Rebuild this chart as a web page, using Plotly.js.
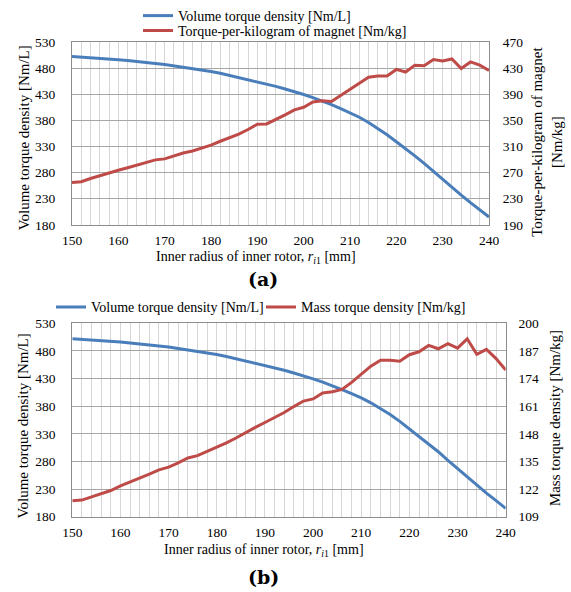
<!DOCTYPE html>
<html>
<head>
<meta charset="utf-8">
<script src="https://cdn.plot.ly/plotly-3.0.1.min.js"></script>
<style>html,body{margin:0;padding:0;background:#fff;}#chart{width:571px;height:592px;}</style>
</head>
<body>
<div id="chart"></div>
<script>
// Inner radius of inner rotor [mm]
var radius = [150,152,154,156,158,160,162,164,166,168,170,172,174,176,178,180,182,184,186,188,190,192,194,196,198,200,202,204,206,208,210,212,214,216,218,220,222,224,226,228,230,232,234,236,238,240];

// Volume torque density [Nm/L]
var volumeTorque = [502,501,500,499,497.5,496,494.5,493,491,489,487,484.5,482,479.5,476.5,473.5,470,466,462,458,454,449.5,445,440,435,429.5,423.5,417,410,402.5,395,386,376,365,352.5,339,326,312,297.5,282,267,252,237,222.5,209,195];

// (a) Torque-per-kilogram of magnet [Nm/kg]
var torquePerKgMagnet = [255,256,261,265.5,269.5,273.5,277.5,281.5,285,289.5,291,296,300,303,307.5,312,318,323,329,336,344,344.5,351,358.5,366,370,378,380,379,388,397.5,407,416,418,418,428,424,434.5,433.5,443,441,444,429.5,439.5,434.5,426.5];

// (b) Mass torque density [Nm/kg]
var massTorque = [116.5,116.8,118.3,119.7,121.3,123.5,125.3,127,129,131,132.3,134.3,136.6,137.7,139.6,141.8,143.7,146,148.6,151,153.3,155.5,158,160.8,163.4,164.4,167.2,167.8,168.9,172.2,176,179.8,182.6,182.6,182.1,185.2,186.6,189.6,188,190.4,188.3,192.7,185.4,187.7,183.4,178];

// Tick values
var xTicks = [150,160,170,180,190,200,210,220,230,240];
var leftTicks = [180,230,280,330,380,430,480,530];
var rightTicksA = [190,230,270,310,350,390,430,470];
var rightTicksB = [109,122,135,148,161,174,187,200];

var BLUE = '#4A7EBB', RED = '#BE4B48';
var FONT = '"Liberation Serif", "Times New Roman", serif';
var axisLine = '#8c8c8c';
var hGrid = '#a6a6a6';
var vGrid = '#d6d6d6';
function tf() { return {family: FONT, size: 13.5, color: '#000'}; }

var traces = [
  {x: radius, y: volumeTorque, xaxis: 'x', yaxis: 'y', mode: 'lines', name: 'Volume torque density [Nm/L]', line: {color: BLUE, width: 3}, legend: 'legend'},
  {x: radius, y: torquePerKgMagnet, xaxis: 'x', yaxis: 'y2', mode: 'lines', name: 'Torque-per-kilogram of magnet [Nm/kg]', line: {color: RED, width: 3}, legend: 'legend2'},
  {x: radius, y: volumeTorque, xaxis: 'x2', yaxis: 'y3', mode: 'lines', name: 'Volume torque density [Nm/L]', line: {color: BLUE, width: 3}, legend: 'legend3'},
  {x: radius, y: massTorque, xaxis: 'x2', yaxis: 'y4', mode: 'lines', name: 'Mass torque density [Nm/kg]', line: {color: RED, width: 3}, legend: 'legend4'}
];

function xAxis(domain, anchor) {
  return {
    domain: domain, anchor: anchor, range: [150, 240],
    tickmode: 'array', tickvals: xTicks, ticktext: xTicks.map(String),
    showgrid: true, gridcolor: vGrid, gridwidth: 1,
    minor: {dtick: 2, tick0: 150, showgrid: true, gridcolor: vGrid, gridwidth: 1},
    showline: true, mirror: true, linecolor: axisLine, linewidth: 1,
    ticks: 'outside', ticklen: 3, tickcolor: 'rgba(0,0,0,0)',
    tickfont: tf(), zeroline: false, fixedrange: true
  };
}
function yLeft(domain, anchor) {
  return {
    domain: domain, anchor: anchor, range: [180, 530],
    tickmode: 'array', tickvals: leftTicks, ticktext: leftTicks.map(String),
    showgrid: true, gridcolor: hGrid, gridwidth: 1,
    showline: true, mirror: true, linecolor: axisLine, linewidth: 1,
    ticks: 'outside', ticklen: 13, tickcolor: 'rgba(0,0,0,0)',
    tickfont: tf(), zeroline: false, fixedrange: true
  };
}
function yRight(over, anchor, range, vals, len) {
  return {
    overlaying: over, anchor: anchor, side: 'right', range: range,
    tickmode: 'array', tickvals: vals, ticktext: vals.map(String),
    showgrid: false, showline: false,
    ticks: 'outside', ticklen: len, tickcolor: 'rgba(0,0,0,0)',
    tickfont: tf(), zeroline: false, fixedrange: true
  };
}

function legendAt(xpx, ypx) {
  return {
    x: xpx / 571, y: 1 - ypx / 592, xanchor: 'left', yanchor: 'middle',
    orientation: 'v', bgcolor: 'rgba(0,0,0,0)', borderwidth: 0,
    font: {family: FONT, size: 14, color: '#000'}, itemclick: false, itemdoubleclick: false
  };
}

function ann(text, xpx, ypx, size, angle, fam) {
  return {text: text, x: xpx / 571, y: 1 - ypx / 592, xref: 'paper', yref: 'paper',
    xanchor: 'center', yanchor: 'middle', showarrow: false, textangle: angle || 0,
    font: {family: fam || FONT, size: size, color: '#000'}};
}

var xTitle = 'Inner radius of inner rotor, <i>r</i><sub><i>i</i>1</sub> [mm]';
var BOLD = 'DejaVu Serif';

var layout = {
  width: 571, height: 592,
  font: {family: FONT, size: 14, color: '#000'},
  margin: {l: 0, r: 0, t: 0, b: 0, pad: 0},
  paper_bgcolor: '#fff', plot_bgcolor: '#fff',
  showlegend: true,
  xaxis: xAxis([72 / 571, 489 / 571], 'y'),
  yaxis: yLeft([1 - 221.7 / 592, 1 - 37.3 / 592], 'x'),
  yaxis2: yRight('y', 'x', [190, 470], rightTicksA, 10),
  xaxis2: xAxis([72.3 / 571, 505.7 / 571], 'y3'),
  yaxis3: yLeft([1 - 516 / 592, 1 - 321 / 592], 'x2'),
  yaxis4: yRight('y3', 'x2', [109, 200], rightTicksB, 9),
  legend: legendAt(138, 11),
  legend2: legendAt(138, 26),
  legend3: legendAt(51, 305),
  legend4: legendAt(261, 305),
  annotations: [
    ann(xTitle, 256, 255, 14, 0),
    ann('<b>(a)</b>', 263, 276, 19, 0, BOLD),
    ann('Volume torque density [Nm/L]', 23.5, 134, 15, -90),
    ann('Torque-per-kilogram of magnet<br>[Nm/kg]', 547, 138, 15, -90),
    ann(xTitle, 264, 550, 14, 0),
    ann('<b>(b)</b>', 263, 577, 19, 0, BOLD),
    ann('Volume torque density [Nm/L]', 23, 425, 15, -90),
    ann('Mass torque density [Nm/kg]', 555.7, 417, 15, -90)
  ]
};

Plotly.newPlot('chart', traces, layout, {staticPlot: true, displayModeBar: false});
</script>
</body>
</html>
